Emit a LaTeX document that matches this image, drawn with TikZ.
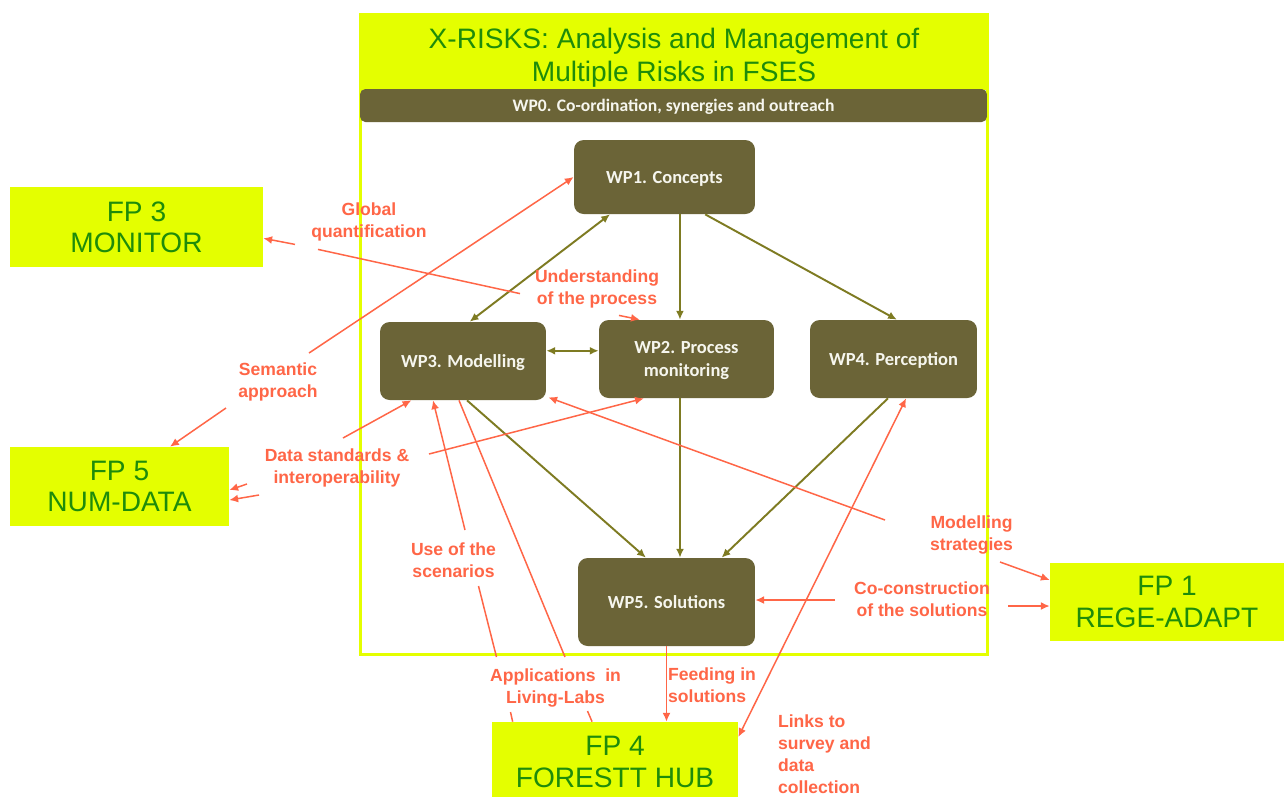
\documentclass[tikz,border=0pt]{standalone}
\usepackage{fontspec}
\setmainfont{Liberation Sans}
\newfontfamily\boxfont{Carlito}
\usetikzlibrary{calc,arrows.meta}

\definecolor{fpyellow}{HTML}{E4FF00}
\definecolor{wpolive}{HTML}{6B6437}
\definecolor{linkolive}{HTML}{7E7B22}
\definecolor{linkred}{HTML}{FF6647}
\definecolor{titlegreen}{HTML}{1E8C0A}
\definecolor{wptext}{HTML}{F6F6EE}

\tikzset{
  wpbox/.style={fill=wpolive, rounded corners=5.5pt, text=wptext, align=center,
    inner sep=0pt, text depth=0pt, font=\boxfont\bfseries\fontsize{10.5}{13}\selectfont},
  fpbox/.style={fill=fpyellow, text=titlegreen, align=center, inner sep=0pt,
    font=\fontsize{16}{17.8}\selectfont},
  lbl/.style={text=linkred, align=center, inner sep=1pt,
    font=\bfseries\fontsize{10}{12.5}\selectfont},
  wplink/.style={draw=linkolive, line width=1.1pt},
  redlink/.style={draw=linkred, line width=0.85pt},
}

\begin{document}
\begin{tikzpicture}[x=0.02cm, y=-0.02cm, >={Latex[length=5pt,width=4.5pt]}]
\clip (0,0) rectangle (1284,796);
\fill[white] (0,0) rectangle (1284,796);

% project frame, title band and co-ordination bar
\node[draw=fpyellow, line width=1.7pt, minimum width=12.56cm, minimum height=12.82cm,
      inner sep=0pt] (xrisks) at (674,334.5) {};
\node[fill=fpyellow, minimum width=12.56cm, minimum height=1.52cm, inner sep=0pt]
      (band) at (674,52) {};
\node[text=titlegreen, inner sep=0pt, align=center, font=\fontsize{16}{18.8}\selectfont]
      (title) at (674,58) {X-RISKS: Analysis and Management of\\Multiple Risks in FSES};
\node[wpbox, rounded corners=3pt, minimum width=12.54cm, minimum height=0.66cm,
      font=\boxfont\bfseries\fontsize{10}{12}\selectfont]
      (wp0) at (673.5,105.5) {WP0. Co-ordination, synergies and outreach};

% work packages
\node[wpbox, minimum width=3.62cm, minimum height=1.48cm] (wp1) at (664.5,177) {WP1. Concepts};
\node[wpbox, minimum width=3.32cm, minimum height=1.56cm] (wp3) at (463,361) {WP3. Modelling};
\node[wpbox, minimum width=3.5cm, minimum height=1.56cm] (wp2) at (686.5,359) {WP2. Process\\monitoring};
\node[wpbox, minimum width=3.34cm, minimum height=1.56cm] (wp4) at (893.5,359) {WP4. Perception};
\node[wpbox, minimum width=3.54cm, minimum height=1.76cm] (wp5) at (666.5,602) {WP5. Solutions};

% flagship projects
\node[fpbox, minimum width=5.06cm, minimum height=1.6cm] (fp3) at (136.5,227) {FP 3\\MONITOR};
\node[fpbox, minimum width=4.38cm, minimum height=1.58cm] (fp5) at (119.5,486.5) {FP 5\\NUM-DATA};
\node[fpbox, minimum width=4.68cm, minimum height=1.56cm] (fp1) at (1167,602) {FP 1\\REGE-ADAPT};
\node[fpbox, minimum width=4.92cm, minimum height=1.6cm] (fp4) at (615,762) {FP 4\\FORESTT HUB};

% links between work packages
\draw[wplink,<->] ($(wp1.south west)!0.2!(wp1.south east)$) -- ($(wp3.north west)!0.54!(wp3.north east)$);
\draw[wplink,->] ($(wp1.south west)!0.585!(wp1.south east)$) coordinate (c12) -- (c12 |- wp2.north);
\draw[wplink,->] ($(wp1.south west)!0.724!(wp1.south east)$) -- ($(wp4.north west)!0.52!(wp4.north east)$);
\draw[wplink,<->] ($(wp3.north east)!0.37!(wp3.south east)$) coordinate (c32) -- (c32 -| wp2.west);
\draw[wplink,->] ($(wp3.south west)!0.524!(wp3.south east)$) -- ($(wp5.north west)!0.384!(wp5.north east)$);
\draw[wplink,->] ($(wp2.south west)!0.463!(wp2.south east)$) coordinate (c25) -- (c25 |- wp5.north);
\draw[wplink,->] ($(wp4.south west)!0.467!(wp4.south east)$) -- ($(wp5.north west)!0.81!(wp5.north east)$);

% link labels
\node[lbl] (gq) at (369,221.5) {Global\\quantification};
\node[lbl] (up) at (597,289) {Understanding\\of the process};
\node[lbl] (sa) at (278,381.5) {Semantic\\approach};
\node[lbl] (ds) at (337,468) {Data standards \&\\interoperability};
\node[lbl] (us) at (453.5,560.5) {Use of the\\scenarios};
\node[lbl] (al) at (555.5,687.5) {Applications\ \ in\\Living-Labs};
\node[lbl, anchor=west, align=left] (fs) at (666,685) {Feeding in\\solutions};
\node[lbl, anchor=west, align=left] (ls) at (776,754) {Links to\\survey and\\data\\collection};
\node[lbl] (ms) at (971.5,535) {Modelling\\strategies};
\node[lbl] (cc) at (922,599.5) {Co-construction\\of the solutions};

% FP3 -- WP2: global quantification / understanding of the process
\coordinate (gq1) at (295,244.4);
\coordinate (gq2) at (318,249.4);
\coordinate (gq3) at (520,293.6);
\coordinate (gq4) at (619,315.4);
\draw[redlink,->] (gq1) -- ($(fp3.north east)!0.64!(fp3.south east)$);
\draw[redlink] (gq2) -- (gq3);
\draw[redlink,->] (gq4) -- ($(wp2.north west)!0.234!(wp2.north east)$);

% semantic approach
\coordinate (sa1) at (309,353);
\coordinate (sa2) at (226,408);
\draw[redlink,->] (sa1) -- (wp1.west);
\draw[redlink,->] (sa2) -- ($(fp5.north west)!0.73!(fp5.north east)$);

% data standards & interoperability
\coordinate (ds1) at (343,438);
\coordinate (ds2) at (429,454);
\coordinate (ds3) at (247,484);
\coordinate (ds4) at (259,495);
\draw[redlink,->] (ds1) -- ($(wp3.south west)!0.19!(wp3.south east)$);
\draw[redlink,->] (ds2) -- ($(wp2.south west)!0.257!(wp2.south east)$);
\draw[redlink,->] (ds3) -- ($(fp5.north east)!0.544!(fp5.south east)$);
\draw[redlink,->] (ds4) -- ($(fp5.north east)!0.67!(fp5.south east)$);

% use of the scenarios / applications in living-labs
\coordinate (us1) at (465,530);
\coordinate (us2) at (478.5,586);
\coordinate (us3) at (496.5,657);
\coordinate (us4) at (510.5,712);
\draw[redlink,->] (us1) -- ($(wp3.south west)!0.32!(wp3.south east)$);
\draw[redlink] (us2) -- (us3);
\draw[redlink] (us4) -- ($(fp4.north west)!0.085!(fp4.north east)$);
\coordinate (al1) at (565,657);
\coordinate (al2) at (587.5,711);
\draw[redlink] ($(wp3.south west)!0.476!(wp3.south east)$) -- (al1);
\draw[redlink] (al2) -- ($(fp4.north west)!0.407!(fp4.north east)$);

% feeding in solutions
\draw[redlink,->] (wp5.south) -- (wp5.south |- fp4.north);

% links to survey and data collection
\draw[redlink,<->] ($(wp4.south west)!0.575!(wp4.south east)$) -- ($(fp4.north east)!0.19!(fp4.south east)$);

% modelling strategies
\coordinate (ms1) at (885,520);
\coordinate (ms2) at (1000,562);
\draw[redlink,->] (ms1) -- ($(wp3.south east)+(2,-3)$);
\draw[redlink,->] (ms2) -- ($(fp1.north west)!0.22!(fp1.south west)$);

% co-construction of the solutions
\coordinate (cc1) at (835,600);
\coordinate (cc2) at (1008,606);
\draw[redlink,->] (cc1) -- (cc1 -| wp5.east);
\draw[redlink,->] (cc2) -- (cc2 -| fp1.west);
\end{tikzpicture}
\end{document}
